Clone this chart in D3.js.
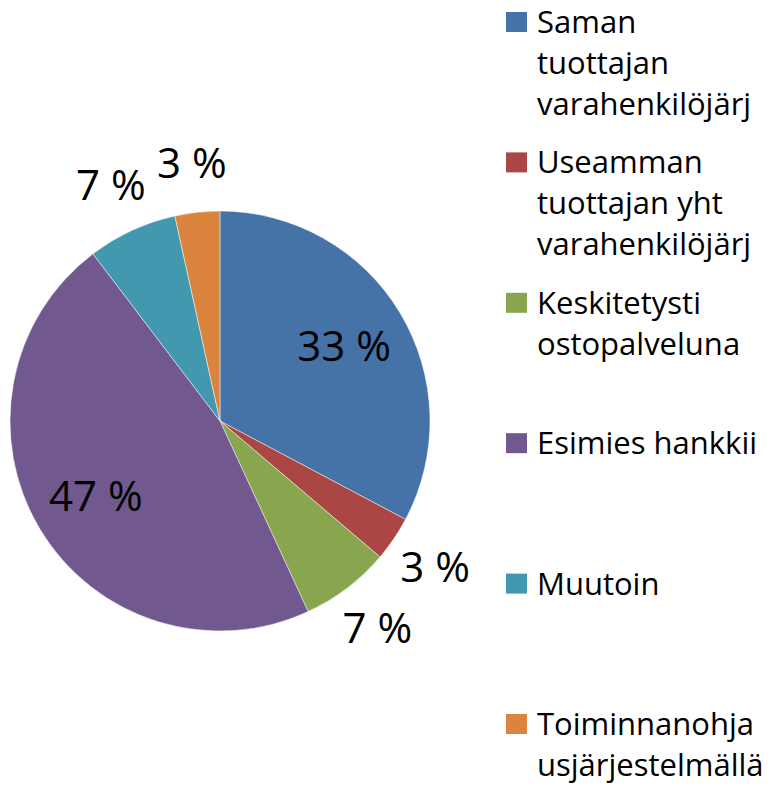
<!DOCTYPE html>
<html>
<head>
<meta charset="utf-8">
<script src="https://cdn.jsdelivr.net/npm/d3@7"></script>
<style>
  html, body { margin: 0; padding: 0; background: #fff; }
  svg { display: block; font-family: "Open Sans", "Noto Sans", sans-serif; }
</style>
</head>
<body>
<svg id="chart" width="777" height="790"></svg>
<script>
const categories = [
  "Saman\ntuottajan\nvarahenkilöjärj",
  "Useamman\ntuottajan yht\nvarahenkilöjärj",
  "Keskitetysti\nostopalveluna",
  "Esimies hankkii",
  "Muutoin",
  "Toiminnanohja\nusjärjestelmällä",
];
const counts = [19, 2, 4, 27, 4, 2];
const colors = ["#4572A7", "#AA4643", "#89A54E", "#71588F", "#4198AF", "#DB843D"];
// labels that Excel placed inside the slice
const insideLabel = [true, false, false, true, false, false];

const svg = d3.select("#chart");
const cx = 220;
const cy = 421;
const radius = 210;

const total = d3.sum(counts);
const pie = d3.pie().sort(null).value((d) => d);
const arcs = pie(counts);

const arc = d3.arc().innerRadius(0).outerRadius(radius);
const innerLabelArc = d3.arc().innerRadius(radius * 0.69).outerRadius(radius * 0.69);
const outerLabelArc = d3.arc().innerRadius(radius + 50).outerRadius(radius + 50);

const pieGroup = svg.append("g").attr("transform", `translate(${cx},${cy})`);

pieGroup
  .selectAll("path")
  .data(arcs)
  .enter()
  .append("path")
  .attr("d", arc)
  .attr("fill", (d, i) => colors[i])
  .attr("stroke", "#ffffff")
  .attr("stroke-opacity", 0.6)
  .attr("stroke-width", 0.8);

pieGroup
  .selectAll("text")
  .data(arcs)
  .enter()
  .append("text")
  .attr("transform", (d, i) =>
    `translate(${(insideLabel[i] ? innerLabelArc : outerLabelArc).centroid(d)})`
  )
  .attr("text-anchor", "middle")
  .attr("dy", "0.36em")
  .attr("font-size", 42)
  .attr("fill", "#000")
  .text((d) => `${Math.round((d.value / total) * 100)} %`);

// legend
const legendX = 506;
const legendTop = 33;
const legendStep = 140.4;
const lineHeight = 41;
const swatch = 21;

const legendItem = svg
  .append("g")
  .selectAll("g")
  .data(categories)
  .enter()
  .append("g")
  .attr("transform", (d, i) => `translate(${legendX},${legendTop + i * legendStep})`);

legendItem
  .append("rect")
  .attr("x", 0)
  .attr("y", -swatch)
  .attr("width", swatch)
  .attr("height", swatch - 1)
  .attr("fill", (d, i) => colors[i]);

legendItem
  .append("text")
  .attr("font-size", 31)
  .attr("fill", "#000")
  .selectAll("tspan")
  .data((d) => d.split("\n"))
  .enter()
  .append("tspan")
  .attr("x", 31)
  .attr("y", (t, j) => j * lineHeight)
  .text((t) => t);
</script>
</body>
</html>
